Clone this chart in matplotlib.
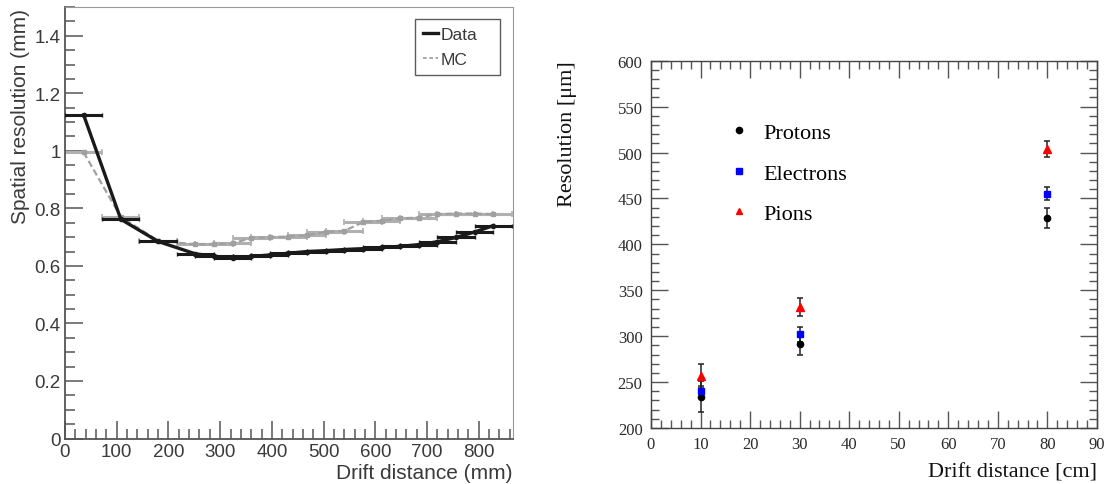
import matplotlib
matplotlib.use("Agg")
import matplotlib.pyplot as plt
from matplotlib.ticker import MultipleLocator
from matplotlib.lines import Line2D

# left panel: spatial resolution (mm) vs drift distance (mm)
drift_mm = [36, 108, 180, 252, 288, 324, 360, 396, 432, 468,
            504, 540, 576, 612, 648, 684, 720, 756, 792, 828]
data_res = [1.125, 0.762, 0.685, 0.642, 0.634, 0.627, 0.633, 0.638, 0.644, 0.650,
            0.653, 0.657, 0.660, 0.664, 0.668, 0.674, 0.684, 0.699, 0.718, 0.740]
mc_res = [0.995, 0.770, 0.688, 0.675, 0.676, 0.678, 0.697, 0.700, 0.702, 0.706,
          0.718, 0.722, 0.752, 0.757, 0.765, 0.768, 0.780, 0.782, 0.782, 0.780]
bin_half = 36

# right panel: resolution (um) vs drift distance (cm)
drift_cm = [10, 30, 80]
protons = [234, 291, 429]
protons_err = [17, 12, 11]
electrons = [240, 302, 455]
electrons_err = [6, 8, 7]
pions = [257, 332, 504]
pions_err = [13, 10, 9]

fig = plt.figure(figsize=(11.05, 4.85), dpi=100)

# ---------- left ----------
sans = ['Liberation Sans', 'DejaVu Sans']
tcol = '#3a3a3a'
ax1 = fig.add_axes([0.0588, 0.0938, 0.4054, 0.8897])
ax1.errorbar(drift_mm, mc_res, xerr=bin_half, fmt='none', ecolor='#b0b0b0',
             elinewidth=2.2, capsize=2, capthick=1.2, zorder=2)
ax1.plot(drift_mm, mc_res, color='#a0a0a0', lw=1.6, ls=(0, (3, 1.5)),
         marker='s', ms=3, mfc='#a0a0a0', mec='#a0a0a0', zorder=3)
ax1.errorbar(drift_mm, data_res, xerr=bin_half, fmt='none', ecolor='#1a1a1a',
             elinewidth=2.2, capsize=1.5, capthick=1.0, zorder=4)
ax1.plot(drift_mm, data_res, color='#1a1a1a', lw=2.4, marker='o', ms=3,
         zorder=5)
ax1.set_xlim(0, 866)
ax1.set_ylim(0, 1.5)
ax1.xaxis.set_major_locator(MultipleLocator(100))
ax1.xaxis.set_minor_locator(MultipleLocator(20))
ax1.yaxis.set_major_locator(MultipleLocator(0.2))
ax1.yaxis.set_minor_locator(MultipleLocator(0.05))
ax1.yaxis.set_major_formatter(plt.FuncFormatter(lambda v, p: '%g' % round(v, 2)))
ax1.tick_params(which='both', direction='in', top=False, right=False,
                colors='#555555', labelcolor=tcol, labelsize=13.5, width=1.1)
ax1.tick_params(axis='x', which='major', length=13, pad=3.5)
ax1.tick_params(axis='y', which='major', length=13, pad=3)
ax1.tick_params(which='minor', length=7)
for lab in ax1.get_xticklabels() + ax1.get_yticklabels():
    lab.set_family(sans)
for side in ['left', 'bottom']:
    ax1.spines[side].set_color('#555555')
    ax1.spines[side].set_linewidth(1.3)
for side in ['top', 'right']:
    ax1.spines[side].set_color('#999999')
    ax1.spines[side].set_linewidth(0.8)
ax1.set_xlabel('Drift distance (mm)', family=sans, fontsize=15, color=tcol,
               loc='right')
ax1.xaxis.set_label_coords(1.0, -0.078)
ax1.xaxis.label.set_va('center')
ax1.set_ylabel('Spatial resolution (mm)', family=sans, fontsize=15, color=tcol,
               loc='top')
ax1.yaxis.set_label_coords(-0.1, 0.997)
ax1.yaxis.label.set_va('center')

handles = [Line2D([0], [0], color='#1a1a1a', lw=2.4),
           Line2D([0], [0], color='#a0a0a0', lw=1.3, ls=(0, (2, 1.5)))]
leg = ax1.legend(handles, ['Data', 'MC'], loc='upper left', mode='expand',
                 bbox_to_anchor=(0.781, 0.838, 0.19, 0.134),
                 prop={'family': sans, 'size': 12.5},
                 frameon=True, fancybox=False, handlelength=0.9,
                 handletextpad=0.15, borderpad=0.45, labelspacing=0.55,
                 borderaxespad=0)
leg.get_frame().set_edgecolor('#333333')
leg.get_frame().set_linewidth(1.0)
for t in leg.get_texts():
    t.set_color(tcol)

# ---------- right ----------
serif = ['Liberation Serif', 'DejaVu Serif']
ax2 = fig.add_axes([0.5891, 0.1155, 0.4036, 0.7573])
ekw = dict(ecolor='#222222', elinewidth=1.1, capsize=2.5, capthick=1.1, ls='none')
ax2.errorbar(drift_cm, protons, yerr=protons_err, fmt='o', color='black',
             ms=4.5, **ekw)
ax2.errorbar(drift_cm, electrons, yerr=electrons_err, fmt='s', color='#0000ff',
             ms=5, **ekw)
ax2.errorbar(drift_cm, pions, yerr=pions_err, fmt='^', color='#ff0000',
             ms=5.5, **ekw)
ax2.set_xlim(0, 90)
ax2.set_ylim(200, 600)
ax2.xaxis.set_major_locator(MultipleLocator(10))
ax2.xaxis.set_minor_locator(MultipleLocator(2))
ax2.yaxis.set_major_locator(MultipleLocator(50))
ax2.yaxis.set_minor_locator(MultipleLocator(10))
ax2.tick_params(which='both', direction='in', top=True, right=True,
                colors='#555555', labelcolor='#2a2a2a', labelsize=12, width=1.0)
ax2.tick_params(which='major', length=12, pad=6)
ax2.tick_params(which='minor', length=6)
for lab in ax2.get_xticklabels() + ax2.get_yticklabels():
    lab.set_family(serif)
for sp in ax2.spines.values():
    sp.set_color('#444444')
    sp.set_linewidth(1.0)
ax2.set_xlabel('Drift distance [cm]', family=serif, fontsize=16, color='#111111',
               loc='right')
ax2.xaxis.set_label_coords(1.0, -0.12)
ax2.xaxis.label.set_va('center')
ax2.set_ylabel('Resolution [μm]', family=serif, fontsize=16, color='#111111',
               loc='top')
ax2.yaxis.set_label_coords(-0.188, 1.002)
ax2.yaxis.label.set_va('center')

leg_handles = [Line2D([], [], ls='none', marker='o', color='black', ms=4.5),
               Line2D([], [], ls='none', marker='s', color='#0000ff', ms=5),
               Line2D([], [], ls='none', marker='^', color='#ff0000', ms=5)]
ax2.legend(leg_handles, ['Protons', 'Electrons', 'Pions'], loc='upper left',
           bbox_to_anchor=(0.1726, 0.832), frameon=False,
           prop={'family': serif, 'size': 16}, handletextpad=0.58,
           labelspacing=0.9, borderaxespad=0, borderpad=0, handlelength=1.0)

fig.savefig('out.png', dpi=100)
